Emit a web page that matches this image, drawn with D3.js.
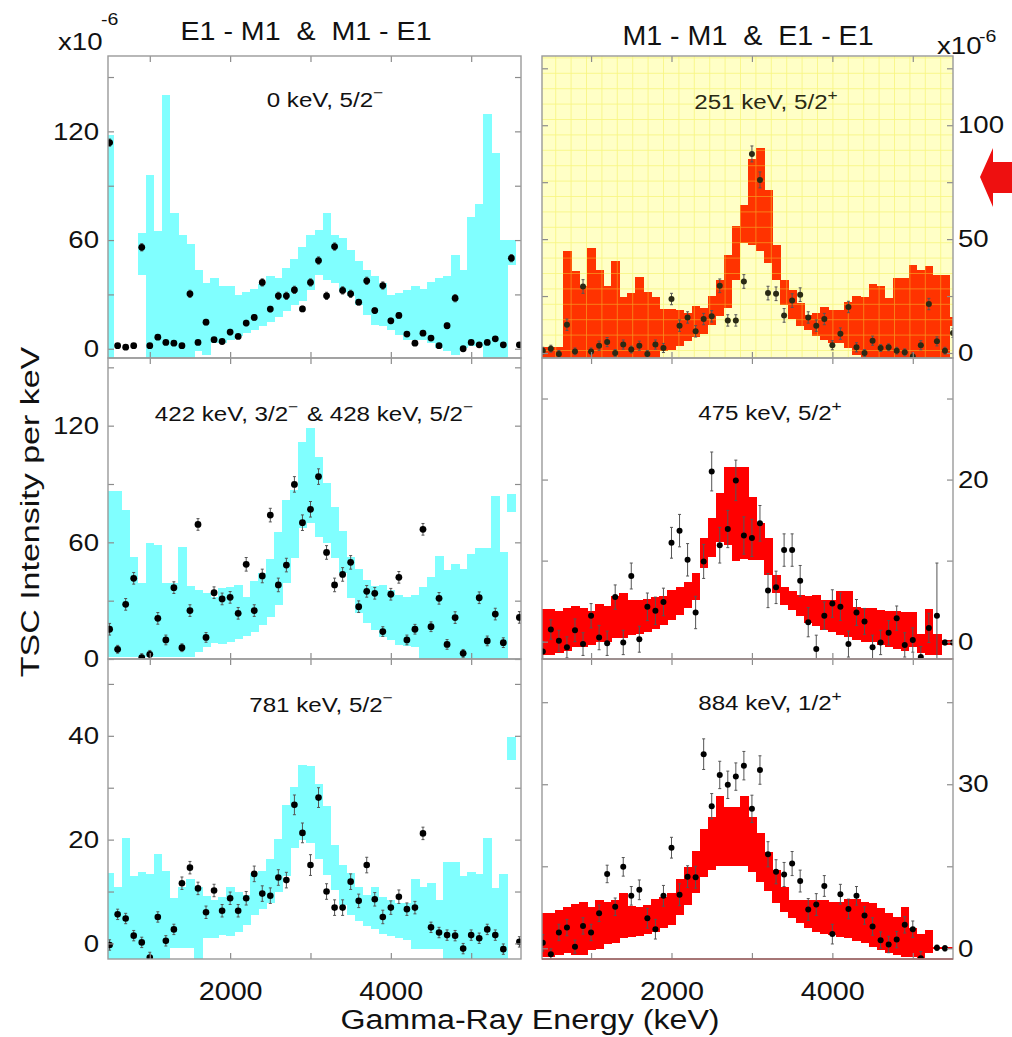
<!DOCTYPE html>
<html><head><meta charset="utf-8">
<script src="https://cdn.jsdelivr.net/npm/d3@7"></script>
<style>body{margin:0;background:#fff}svg{display:block}text{white-space:pre}</style>
</head><body>
<script>
// ---------- DATA ----------
const leftEnergy = [500,600,700,800,900,1000,1100,1200,1300,1400,1500,1600,1700,1800,1900,2000,2100,2200,2300,2400,2500,2600,2700,2800,2900,3000,3100,3200,3300,3400,3500,3600,3700,3800,3900,4000,4100,4200,4300,4400,4500,4600,4700,4800,4900,5000,5100,5200,5300,5400,5500,5600];
const rightEnergy = [400,500,600,700,800,900,1000,1100,1200,1300,1400,1500,1600,1700,1800,1900,2000,2100,2200,2300,2400,2500,2600,2700,2800,2900,3000,3100,3200,3300,3400,3500,3600,3700,3800,3900,4000,4100,4200,4300,4400,4500,4600,4700,4800,4900,5000,5100,5200,5300,5400,5500];

// Panel 1: 0 keV, 5/2-  (E1-M1 & M1-E1)
const p1Hi = [118,null,null,null,63.8,96,65,140,74.8,62.9,57.9,43.6,36.2,39,34.7,34.7,29.8,31.6,32.9,36,39.9,39,44.5,49.4,56.4,62.9,65.6,74.8,62.9,61,54.6,48.7,43.6,39.9,36.2,29.8,30.7,32.5,34.7,32.9,36.6,39,39.9,51.8,43.6,73,79.8,129.6,107.9,60.1,60,null];
const p1Lo = [-5,null,null,null,40.8,-5,-5,-5,-5,-5,-5,-1.5,-3.3,3.1,3.1,5,6.8,8.6,10.5,12.3,15,17.8,20.6,24.3,26.1,32.5,40.8,38,36.2,31.6,28.9,24.3,18.7,13.2,12.3,10.5,7.7,5,5,5,3.1,0.4,-1.5,-3.3,0.4,1.3,1.3,-5,-5,-5,46,null];
const p1Val = [113.8,1.7,0.9,1.7,56,1.7,6.4,3.5,3.1,1.7,30.3,3.5,14.7,5,4,9.2,6.8,14.2,17.3,36.6,21.9,29.2,29.2,32.5,22,36.6,48.7,29.2,56.4,32.2,30.3,25.7,37.5,21.1,34.9,15.4,18.4,8.1,3.1,8.6,5.9,1.7,12.7,27.9,0,3.5,2.2,3.5,5.5,2.2,50,2.2];
const p1Err = [2,1,1,1,2,1,1,1,1,1,2,1,1.5,1,1,1.5,1,1.5,1.5,2,1.5,2,2,2,1.5,2,2,2,2,2,2,1.5,2,1.5,2,1.5,1.5,1,1,1,1,1,1.5,2,1,1,1,1,1,1,2,1];

// Panel 2: 251 keV, 5/2+  (M1-M1 & E1-E1)
const p2Hi = [2.5,2.5,2.5,44.6,35.8,29.2,46,36.3,29.5,40.6,24.6,26.3,33.3,26.6,24.6,19.3,19.3,18.7,17.5,20.5,19.7,24.9,32.2,43.1,55.8,65.1,85.1,89.9,71.6,47.5,32.2,27.5,21.9,16.8,17.5,20,18.7,18.7,22.2,24.9,24.4,30.3,29.5,24.1,32.9,32.9,38.7,36.3,38,34.4,34.4,16];
const p2Lo = [-2,-2,-2,-2,-2,-2,-2,-2,-2,-2,-2,-2,-2,-2,-2,0.7,1.5,2.9,5.1,7,8.5,12.4,16.1,19.7,32.2,48.5,47.5,44.6,39.5,32.2,21.2,14.9,11.7,10.2,7.3,5.8,4.4,4.4,2.2,-0.7,-2,-2,-2,-2,-2,-2,-2,-2,-2,-2,-2,12];
const p2Val = [1,1.9,-0.4,12.4,0.7,29.2,0.7,3.2,4.8,0,3.7,1.5,3.2,-0.4,3.7,2.2,23.7,12,15.6,9.5,14.9,16.1,29.5,14.3,14.3,31.4,87.4,76,26.3,26,16.5,23,25.6,15.6,12,14.9,3.4,8.5,20.2,2.5,0,5.4,2.2,2.5,1,0.3,-1.5,3.4,21.5,5.1,1,8.8];
const p2Err = [1.5,1.5,1.5,2.5,1.5,3,1.5,2,2,1.5,2,1.5,2,1.5,2,2,2.5,2.5,2.5,2.5,2.5,2.5,3,2.5,2.5,3,3.5,3.5,3,3,3,3,3,2.5,2.5,2.5,2,2.5,2.5,2,1.5,2,1.5,1.5,1.5,1.5,1.5,2,2.5,2,1.5,2];

// Panel 3: 422 keV 3/2- & 428 keV 5/2-
const p3Hi = [86.6,86.6,76.6,52.3,39.3,59.8,58.6,39.3,39.3,57.8,37.5,35.5,33.8,32,36.7,37.2,38,32,40.1,44,51.4,65.1,81.8,86.9,111.8,118.6,104,90.3,78.3,66,52.6,46.1,40.6,37.5,38,35.5,32.9,32,32.9,37.2,42.3,53.1,45.8,48.8,46.1,54,56.9,56.9,84,55.2,84.8,null];
const p3Lo = [1,1,1,1,1,1,1,1,1,1,1,3.8,6.3,8.1,7.7,8.9,10.1,11.8,14.1,17.5,21.8,27.8,39.3,51.8,67.2,69.8,62.9,59.8,51.8,44,31.2,23.5,18.3,14.9,11.5,9.8,7.2,6.7,6.3,0,0,0,0,0,0,0,0,0,0,0,75.8,null];
const p3Val = [15.3,5,28.1,41.5,0.7,2.4,20.9,9.8,36.7,5.8,24.9,69.2,11.1,34.1,30.9,31.7,23.5,48.7,24.9,42.7,74,38.1,48.3,89.8,70.1,77,93.8,54.8,38.1,43.5,49.7,26.9,34.8,33.8,14.1,33.3,42,9.8,15.3,66.7,16.6,31.2,7.5,21.3,2.9,null,31.5,9.3,23.1,8.4,null,21.4];
const p3Err = [3,2,3,3,2,2,3,2.5,3,2,3,3,2.5,3,3,3,3,3.5,3,3.5,3.5,3.5,3.5,4,4,4,4,3.5,3.5,3.5,3.5,3,3,3,2.5,3,3,2.5,2.5,3,2.5,3,2.5,3,2,3,3,2.5,3,2.5,3,3];

// Panel 4: 475 keV, 5/2+
const p4Hi = [4.0,4.0,3.8,4.1,4.4,4.1,3.8,4.6,4.4,5.6,6.0,5.2,5.2,5.3,5.5,5.6,6.4,6.8,7.3,8.5,12.8,15.2,18.3,21.6,21.6,21.6,17.9,14.6,12.8,8.2,6.8,6.2,5.8,5.6,5.8,5.1,5.2,6.2,6.2,4.3,4.2,4.1,3.9,3.8,3.8,3.7,3.7,1.0,4.0,1.0,0.2,0.2];
const p4Lo = [-1.6,-1.6,-1.4,-1.2,-0.6,-0.6,-0.4,-0.1,0,0.4,0.4,0.8,1.0,1.2,1.5,2.1,2.7,3.3,4.1,5.1,9.1,10.5,12.3,11.9,9.9,10.2,10.1,10.1,8.2,6.0,4.5,3.9,3.2,2.3,1.9,1.4,1.2,0.8,0.6,0.2,0,-0.1,-0.4,-0.6,-0.9,-1.2,-0.7,-1.4,-1.6,-1.6,-0.4,-0.4];
const p4Val = [-1.2,1.5,0.1,-0.7,1.4,-0.3,3.2,0.5,-0.2,5.5,-0.1,8.1,0.3,4.3,3.8,4.9,12.2,13.7,10.1,3.6,9.9,21,11.9,13.9,19.9,13.1,12.8,14.6,6.3,6.7,11.3,11.3,7.5,2.4,-0.9,3.2,4.7,4.3,-0.3,3.6,2.5,-0.7,-0.1,1.1,2.9,-0.4,0.2,-1.9,1.7,3.2,-0.1,-0.1];
const p4Err = [1.2,1.2,1.3,1.3,1.4,1.4,1.5,1.5,1.5,1.5,1.5,1.6,1.6,1.7,1.7,1.7,1.9,2.0,2.0,2.0,2.1,2.4,2.2,2.3,2.5,2.3,2.3,2.2,2.1,2.0,2.0,2.0,1.9,1.8,1.7,1.7,1.7,1.7,1.6,1.6,1.6,1.5,1.5,1.5,1.5,1.5,1.5,1.3,1.8,6.5,0.3,0.3];

// Panel 5: 781 keV, 5/2-
const p5Hi = [13.5,10.8,20.4,13,13.8,13.4,17.2,14,8.7,10.8,12.5,10.8,9.1,8.4,9,10.9,10,9.4,13.5,13.9,16.2,20.2,26.7,30.1,34.3,34.1,30.8,26.5,19,15.1,13.6,10.9,9.3,10.9,9,8.4,7.7,7.7,12.5,10.8,11.6,8.4,15.6,15.6,13,13.8,13.4,20.4,10.6,13.4,39.8,null];
const p5Lo = [-3.1,-3.1,-3.1,-3.1,-3.1,-3.1,-3.1,-3.1,-0.8,-0.8,-0.8,-3.1,1,1,1.7,1.5,2.2,3.5,5.5,6.6,7.7,10,12.9,18.3,19.9,19.3,16.3,13.2,10.3,7.4,5.5,4.4,3.3,2.7,1.9,1.5,1,0.6,-1,-1,-1,-1,-3.1,-3.1,-3.1,-3.1,-3.1,-3.1,-3.1,-3.1,35.3,null];
const p5Val = [-0.3,5.6,4.8,1.5,0.2,-2.7,5.1,0.5,2.7,11.6,14.6,10.6,6,10.2,6.3,8.7,6.3,8.7,13.4,9.6,9.2,12.7,12.2,26.7,21.3,15.1,28.1,10,6.9,6.9,11.9,8.2,15.1,8.5,5.1,6.9,9,6.6,6.9,21.2,3.1,2.1,1.6,1.5,-1,1.6,1,2.7,1.6,-1.1,null,0.3];
const p5Err = [1,1,1,1,1,1,1,1,1,1.2,1.2,1.2,1.2,1.2,1.2,1.2,1.2,1.3,1.5,1.5,1.5,1.5,1.5,1.9,1.9,2,1.9,1.5,1.5,1.5,1.5,1.3,1.5,1.3,1.3,1.3,1.3,1.2,1.2,1.2,1,1,1,1,1,1,1,1,1,1,1,1];

// Panel 6: 884 keV, 1/2+
const p6Hi = [6.5,6.5,7,7.6,8.1,8.4,7.6,8.8,8.5,8.8,10.2,7.7,7.5,7.9,9,9.3,10.1,12.6,14.9,17.8,21.8,24.1,27.9,25.9,25.9,27.9,24.1,21,17.7,14.3,11.3,8.8,8.8,8.8,8.8,8.8,8.5,8.5,9,9,8.5,8.2,7.3,6.5,5.8,7.6,3.7,2.7,3.4,0.2,0.2,0.2];
const p6Lo = [-1.5,-1.5,-1.2,-0.8,-1.2,-1.2,-0.3,-0.2,0.8,0.9,1.8,2.1,2.3,2.7,3,3.7,4.3,6.1,7.9,10.2,13.1,14.3,15.1,15.1,15.1,15.1,14,12.2,10.4,8.2,6.7,5.5,4.6,3.7,3,2.7,2.4,2.1,1.8,1.4,0.9,0.3,-0.3,-0.8,-1.2,-1.5,-1.6,-1.8,-0.9,-0.1,-0.1,-0.1];
const p6Val = [1,-1.1,2.9,3.8,0.3,4.1,2.9,6.4,13.6,7.6,14.9,9.6,10.7,5.5,3.5,9.6,18.4,9.8,13.1,13,35.5,26,31.7,29.9,31.4,33.4,25.5,32.6,17.2,14,13.5,15.5,12.3,7.1,8,11.4,2.6,9.9,7.2,9.6,6,4,1.5,0.7,1.6,4.3,3.5,-1.8,null,0.1,0,null];
const p6Err = [1.5,1,1.5,1.5,1.2,1.5,1.5,1.5,1.6,1.6,1.7,1.7,1.8,1.8,1.8,1.9,1.9,2,2,2,2.8,2.3,2.5,2.5,2.5,2.6,2.5,2.6,2.3,2.2,2.2,2.2,2,2,2,1.9,1.8,1.8,1.8,1.7,1.6,1.6,1.5,1.5,1.5,1.5,1.5,1.2,1,0.5,0.5,0.5];

// Ticks and labels
const xTicks = [1000,2000,3000,4000,5000];
const xTickLabels = [2000,4000];
const p1YTicks = [0,30,60,90,120,150], p1YLabels = [0,60,120];
const p2YTicks = [0,25,50,75,100,125], p2YLabels = [0,50,100];
const p3YTicks = [0,30,60,90,120,150], p3YLabels = [0,60,120];
const p4YTicks = [0,10,20,30],          p4YLabels = [0,20];
const p5YTicks = [0,10,20,30,40,50],    p5YLabels = [0,20,40];
const p6YTicks = [0,15,30,45],          p6YLabels = [0,30];
const panelLabels = ["0 keV, 5/2^-","251 keV, 5/2^+","422 keV, 3/2^- & 428 keV, 5/2^-","475 keV, 5/2^+","781 keV, 5/2^-","884 keV, 1/2^+"];
const leftTitle = "E1 - M1  &  M1 - E1";
const rightTitle = "M1 - M1  &  E1 - E1";
const xTitle = "Gamma-Ray Energy (keV)";
const yTitle = "TSC Intensity per keV";

// ---------- LAYOUT ----------
const W = 1012, H = 1037, SX = 1.15;
const FONT = "'Liberation Sans', Arial, Helvetica, sans-serif";
const cols = { left: {x0:108, x1:521, dom:[480,5620]}, right: {x0:542, x1:953, dom:[390,5500]} };
const rows = [[56,358],[358,659],[659,959]];

const panels = [
  {col:"left", row:0, E:leftEnergy, hi:p1Hi, lo:p1Lo, val:p1Val, err:p1Err, yDom:[-5.1,161.6], yT:p1YTicks, yL:p1YLabels, band:"#80ffff", r:3.4, label:panelLabels[0], lx:326, ly:107},
  {col:"right",row:0, E:rightEnergy,hi:p2Hi, lo:p2Lo, val:p2Val, err:p2Err, yDom:[-2.2,130.4], yT:p2YTicks, yL:p2YLabels, band:"#ff3300", r:3.0, label:panelLabels[1], lx:767, ly:109, bg:"#ffffc6", grid:true, dot:"#2a2a14"},
  {col:"left", row:1, E:leftEnergy, hi:p3Hi, lo:p3Lo, val:p3Val, err:p3Err, yDom:[0,154.8],    yT:p3YTicks, yL:p3YLabels, band:"#80ffff", r:3.4, label:panelLabels[2], lx:315, ly:421},
  {col:"right",row:1, E:rightEnergy,hi:p4Hi, lo:p4Lo, val:p4Val, err:p4Err, yDom:[-2.14,35.0], yT:p4YTicks, yL:p4YLabels, band:"#ff0000", r:3.0, label:panelLabels[3], lx:771, ly:420, baseCol:"#a06060"},
  {col:"left", row:2, E:leftEnergy, hi:p5Hi, lo:p5Lo, val:p5Val, err:p5Err, yDom:[-3.0,54.8],  yT:p5YTicks, yL:p5YLabels, band:"#80ffff", r:3.3, label:panelLabels[4], lx:322, ly:712},
  {col:"right",row:2, E:rightEnergy,hi:p6Hi, lo:p6Lo, val:p6Val, err:p6Err, yDom:[-1.95,52.9], yT:p6YTicks, yL:p6YLabels, band:"#ff0000", r:3.0, label:panelLabels[5], lx:771, ly:710, baseCol:"#a06060"}
];

const svg = d3.select("body").append("svg").attr("width",W).attr("height",H)
  .style("font-family",FONT);
svg.append("rect").attr("width",W).attr("height",H).attr("fill","#fff");
const defs = svg.append("defs");

function addText(parent, str, x, y, size, anchor, sx, color) {
  const t = parent.append("text")
    .attr("transform",`translate(${x},${y}) scale(${sx},1)`)
    .attr("xml:space","preserve").style("white-space","pre")
    .attr("text-anchor",anchor).attr("font-size",size).attr("fill",color||"#111");
  const parts = str.split(/\^([-+])/);
  parts.forEach((p,i) => {
    if (i % 2 === 0) { if (p) t.append("tspan").text(p); }
    else {
      t.append("tspan").attr("dy",-9).attr("font-size",size*0.72).text(p === "-" ? "\u2212" : "+");
      t.append("tspan").attr("dy",9).text("\u200a");
    }
  });
  return t;
}

panels.forEach((P, i) => {
  const C = cols[P.col];
  const [y0, y1] = rows[P.row];
  const x = d3.scaleLinear().domain(C.dom).range([C.x0, C.x1]);
  const y = d3.scaleLinear().domain(P.yDom).range([y1, y0]);
  const g = svg.append("g");
  const cid = "clip" + i;
  defs.append("clipPath").attr("id",cid).append("rect")
    .attr("x",C.x0).attr("y",y0).attr("width",C.x1-C.x0).attr("height",y1-y0);
  const inner = g.append("g").attr("clip-path",`url(#${cid})`);

  if (P.bg) inner.append("rect").attr("x",C.x0).attr("y",y0).attr("width",C.x1-C.x0).attr("height",y1-y0).attr("fill",P.bg);

  // band
  const bins = P.E.map((e,k) => ({e, hi:P.hi[k], lo:P.lo[k]})).filter(d => d.hi != null && d.lo != null);
  inner.append("g").attr("shape-rendering","crispEdges").selectAll("rect").data(bins).join("rect")
    .attr("x", d => x(d.e-50)).attr("width", d => x(d.e+50)-x(d.e-50)+0.6)
    .attr("y", d => y(d.hi)).attr("height", d => Math.max(0.8, y(d.lo)-y(d.hi)))
    .attr("fill", P.band);

  // grid over band (yellow panel)
  if (P.grid) {
    const gx = d3.range(C.x0+13.7, C.x1, 15.4), gy = d3.range(y0+1.9, y1, 15.4);
    const gg = inner.append("g").attr("stroke","#f3ee3a").attr("stroke-width",0.8).attr("opacity",0.5);
    gg.selectAll("line.v").data(gx).join("line").attr("x1",d=>d).attr("x2",d=>d).attr("y1",y0).attr("y2",y1);
    gg.selectAll("line.h").data(gy).join("line").attr("y1",d=>d).attr("y2",d=>d).attr("x1",C.x0).attr("x2",C.x1);
  }

  // points with error bars
  const pts = P.E.map((e,k) => ({e, v:P.val[k], s:P.err[k]})).filter(d => d.v != null);
  const eb = inner.append("g").attr("stroke","#555").attr("stroke-width",1);
  eb.selectAll("line.e").data(pts).join("line")
    .attr("x1",d=>x(d.e)).attr("x2",d=>x(d.e)).attr("y1",d=>y(d.v-d.s)).attr("y2",d=>y(d.v+d.s));
  eb.selectAll("line.t").data(pts).join("line")
    .attr("x1",d=>x(d.e)-1.5).attr("x2",d=>x(d.e)+1.5).attr("y1",d=>y(d.v+d.s)).attr("y2",d=>y(d.v+d.s));
  eb.selectAll("line.b").data(pts).join("line")
    .attr("x1",d=>x(d.e)-1.5).attr("x2",d=>x(d.e)+1.5).attr("y1",d=>y(d.v-d.s)).attr("y2",d=>y(d.v-d.s));
  inner.append("g").selectAll("circle").data(pts).join("circle")
    .attr("cx",d=>x(d.e)).attr("cy",d=>y(d.v)).attr("r",P.r).attr("fill",P.dot||"#000");

  // tick marks (inward, all four sides)
  const tickStyle = s => s.call(a => a.select(".domain").remove())
    .call(a => a.selectAll(".tick line").attr("stroke","#8c8c8c").attr("stroke-width",1.2));
  g.append("g").attr("transform",`translate(${C.x0},0)`).call(d3.axisLeft(y).tickValues(P.yT).tickSize(-6).tickFormat("")).call(tickStyle);
  g.append("g").attr("transform",`translate(${C.x1},0)`).call(d3.axisRight(y).tickValues(P.yT).tickSize(-6).tickFormat("")).call(tickStyle);
  g.append("g").attr("transform",`translate(0,${y0})`).call(d3.axisTop(x).tickValues(xTicks).tickSize(-6).tickFormat("")).call(tickStyle);
  g.append("g").attr("transform",`translate(0,${y1})`).call(d3.axisBottom(x).tickValues(xTicks).tickSize(-6).tickFormat("")).call(tickStyle);

  // frame
  g.append("rect").attr("x",C.x0).attr("y",y0).attr("width",C.x1-C.x0).attr("height",y1-y0)
    .attr("fill","none").attr("stroke","#9a9a9a").attr("stroke-width",1.4);
  if (P.baseCol) g.append("line").attr("x1",C.x0).attr("x2",C.x1).attr("y1",y1).attr("y2",y1).attr("stroke",P.baseCol).attr("stroke-width",1.4);

  // y tick labels
  const isLeft = P.col === "left";
  const ax = isLeft ? d3.axisLeft(y) : d3.axisRight(y);
  const lab = g.append("g").attr("transform",`translate(${isLeft ? C.x0 : C.x1},0)`)
    .call(ax.tickValues(P.yL).tickSize(0).tickFormat(d3.format("d")));
  lab.select(".domain").remove();
  lab.selectAll("text").attr("x", (isLeft ? -9 : 5)/SX).attr("transform",`scale(${SX},1)`)
    .attr("font-size",24).attr("font-family",FONT).attr("fill","#111");

  // x tick labels for bottom row
  if (P.row === 2) {
    const xl = g.append("g").attr("transform",`translate(0,${y1})`)
      .call(d3.axisBottom(x).tickValues(xTickLabels).tickSize(0).tickPadding(23).tickFormat(d3.format("d")));
    xl.select(".domain").remove();
    xl.selectAll("text").attr("font-size",25).attr("font-family",FONT).attr("fill","#111")
      .attr("transform",`scale(${SX},1)`).attr("x",0);
  }

  // panel label
  addText(g, P.label, P.lx, P.ly, 21, "middle", SX, P.bg ? "#2a2a14" : "#111");
});

// titles
addText(svg, leftTitle, 306, 40, 26, "middle", 1.1);
addText(svg, rightTitle, 748, 45, 27, "middle", 1.06);
// x10^-6 multipliers
addText(svg, "x10", 58, 50, 24, "start", SX);
addText(svg, "-6", 101, 25, 17, "start", SX);
addText(svg, "x10", 937, 54, 24, "start", SX);
addText(svg, "-6", 979, 42, 17, "start", SX);
// axis titles
addText(svg, xTitle, 530, 1029, 28, "middle", SX);
svg.append("text").attr("transform","translate(39,512) rotate(-90) scale(1.36,1)")
  .attr("text-anchor","middle").attr("font-size",25).attr("fill","#111").text(yTitle);

// red arrow annotation
svg.append("path").attr("d","M980,177 L993,148 L993,162 L1012,162 L1012,193 L993,193 L993,207 Z").attr("fill","#ee1010");
</script>
</body></html>
